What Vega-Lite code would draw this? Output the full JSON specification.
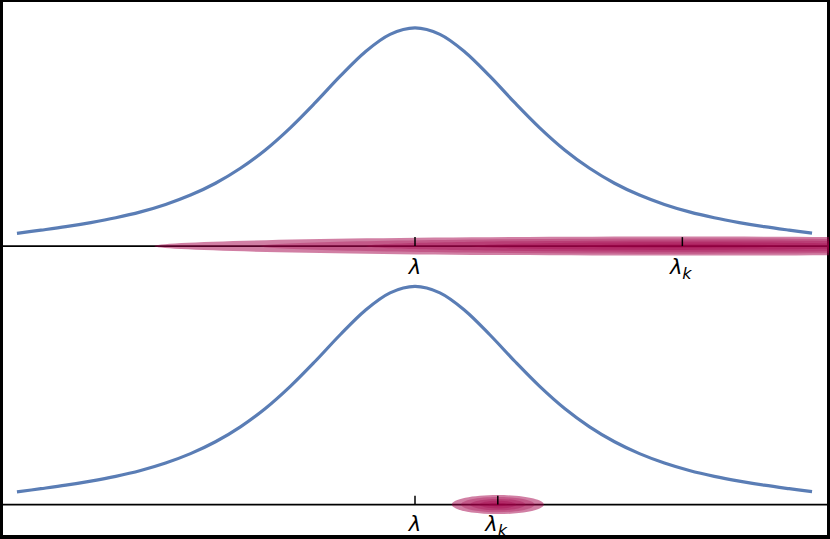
{
  "$schema": "https://vega.github.io/schema/vega-lite/v6.json",
  "width": 830,
  "height": 539,
  "autosize": {"type": "fit", "contains": "padding"},
  "padding": 0,
  "background": "white",
  "config": {"view": {"stroke": "black", "strokeWidth": 4}},
  "datasets": {
    "curve": [
      {"panel": "top", "x": -3.99, "y": 3.048}, {"panel": "top", "x": -3.75, "y": 3.08}, {"panel": "top", "x": -3.5, "y": 3.115},
      {"panel": "top", "x": -3.25, "y": 3.156}, {"panel": "top", "x": -3.0, "y": 3.204}, {"panel": "top", "x": -2.75, "y": 3.263},
      {"panel": "top", "x": -2.5, "y": 3.338}, {"panel": "top", "x": -2.25, "y": 3.432}, {"panel": "top", "x": -2.0, "y": 3.551},
      {"panel": "top", "x": -1.75, "y": 3.701}, {"panel": "top", "x": -1.5, "y": 3.885}, {"panel": "top", "x": -1.25, "y": 4.107},
      {"panel": "top", "x": -1.0, "y": 4.359}, {"panel": "top", "x": -0.75, "y": 4.625}, {"panel": "top", "x": -0.5, "y": 4.869},
      {"panel": "top", "x": -0.25, "y": 5.045}, {"panel": "top", "x": 0.0, "y": 5.11}, {"panel": "top", "x": 0.25, "y": 5.045},
      {"panel": "top", "x": 0.5, "y": 4.869}, {"panel": "top", "x": 0.75, "y": 4.625}, {"panel": "top", "x": 1.0, "y": 4.359},
      {"panel": "top", "x": 1.25, "y": 4.107}, {"panel": "top", "x": 1.5, "y": 3.885}, {"panel": "top", "x": 1.75, "y": 3.701},
      {"panel": "top", "x": 2.0, "y": 3.551}, {"panel": "top", "x": 2.25, "y": 3.432}, {"panel": "top", "x": 2.5, "y": 3.338},
      {"panel": "top", "x": 2.75, "y": 3.263}, {"panel": "top", "x": 3.0, "y": 3.204}, {"panel": "top", "x": 3.25, "y": 3.156},
      {"panel": "top", "x": 3.5, "y": 3.115}, {"panel": "top", "x": 3.75, "y": 3.08}, {"panel": "top", "x": 3.98, "y": 3.05},
      {"panel": "bottom", "x": -3.99, "y": 0.453}, {"panel": "bottom", "x": -3.75, "y": 0.485}, {"panel": "bottom", "x": -3.5, "y": 0.52},
      {"panel": "bottom", "x": -3.25, "y": 0.561}, {"panel": "bottom", "x": -3.0, "y": 0.609}, {"panel": "bottom", "x": -2.75, "y": 0.668},
      {"panel": "bottom", "x": -2.5, "y": 0.743}, {"panel": "bottom", "x": -2.25, "y": 0.837}, {"panel": "bottom", "x": -2.0, "y": 0.956},
      {"panel": "bottom", "x": -1.75, "y": 1.106}, {"panel": "bottom", "x": -1.5, "y": 1.29}, {"panel": "bottom", "x": -1.25, "y": 1.512},
      {"panel": "bottom", "x": -1.0, "y": 1.764}, {"panel": "bottom", "x": -0.75, "y": 2.03}, {"panel": "bottom", "x": -0.5, "y": 2.274},
      {"panel": "bottom", "x": -0.25, "y": 2.45}, {"panel": "bottom", "x": 0.0, "y": 2.515}, {"panel": "bottom", "x": 0.25, "y": 2.45},
      {"panel": "bottom", "x": 0.5, "y": 2.274}, {"panel": "bottom", "x": 0.75, "y": 2.03}, {"panel": "bottom", "x": 1.0, "y": 1.764},
      {"panel": "bottom", "x": 1.25, "y": 1.512}, {"panel": "bottom", "x": 1.5, "y": 1.29}, {"panel": "bottom", "x": 1.75, "y": 1.106},
      {"panel": "bottom", "x": 2.0, "y": 0.956}, {"panel": "bottom", "x": 2.25, "y": 0.837}, {"panel": "bottom", "x": 2.5, "y": 0.743},
      {"panel": "bottom", "x": 2.75, "y": 0.668}, {"panel": "bottom", "x": 3.0, "y": 0.609}, {"panel": "bottom", "x": 3.25, "y": 0.561},
      {"panel": "bottom", "x": 3.5, "y": 0.52}, {"panel": "bottom", "x": 3.75, "y": 0.485}, {"panel": "bottom", "x": 3.98, "y": 0.455}
    ],
    "axes": [{"panel": "top", "y": 2.92}, {"panel": "bottom", "y": 0.325}],
    "ticks": [
      {"panel": "top", "x": 0, "y": 2.92, "y2": 3.01},
      {"panel": "top", "x": 2.68, "y": 2.92, "y2": 3.01},
      {"panel": "bottom", "x": 0, "y": 0.325, "y2": 0.415},
      {"panel": "bottom", "x": 0.83, "y": 0.325, "y2": 0.415}
    ],
    "blobs": [{"panel": "top", "x": 2.68, "y": 2.92}, {"panel": "bottom", "x": 0.83, "y": 0.325}],
    "lam": [{"panel": "top", "x": 0, "y": 2.64}, {"panel": "bottom", "x": 0, "y": 0.06}],
    "lamk": [{"panel": "top", "x": 2.68, "y": 2.64}, {"panel": "bottom", "x": 0.83, "y": 0.06}]
  },
  "layer": [
    {
      "data": {"name": "curve"},
      "mark": {"type": "line", "color": "#5a7db5", "strokeWidth": 3.2, "interpolate": "catmull-rom"},
      "encoding": {
        "x": {"field": "x", "type": "quantitative", "scale": {"domain": [-4.15, 4.15], "nice": false, "zero": false}, "axis": null},
        "y": {"field": "y", "type": "quantitative", "scale": {"domain": [0, 5.39], "nice": false, "zero": false}, "axis": null},
        "detail": {"field": "panel"}
      }
    },
    {
      "data": {"name": "axes"},
      "mark": {"type": "rule", "color": "black", "strokeWidth": 1.8},
      "encoding": {
        "y": {"field": "y", "type": "quantitative", "scale": {"domain": [0, 5.39], "nice": false, "zero": false}, "axis": null}
      }
    },
    {"data": {"name": "blobs"}, "transform": [{"filter": "datum.panel === 'top'"}],
     "mark": {"type": "point", "filled": true, "clip": true, "color": "#a3004a", "opacity": 0.5, "size": 1115136,
       "shape": "M-1,0C-1,-0.00994,-0.5523,-0.018,0,-0.018C0.5523,-0.018,1,-0.00994,1,0C1,0.00994,0.5523,0.018,0,0.018C-0.5523,0.018,-1,0.00994,-1,0Z"},
     "encoding": {"x": {"field": "x", "type": "quantitative", "scale": {"domain": [-4.15, 4.15], "nice": false, "zero": false}, "axis": null},
       "y": {"field": "y", "type": "quantitative", "scale": {"domain": [0, 5.39], "nice": false, "zero": false}, "axis": null}}},
    {"data": {"name": "blobs"}, "transform": [{"filter": "datum.panel === 'top'"}],
     "mark": {"type": "point", "filled": true, "clip": true, "color": "#a3004a", "opacity": 0.3, "size": 713687,
       "shape": "M-1,0C-1,-0.00994,-0.5523,-0.018,0,-0.018C0.5523,-0.018,1,-0.00994,1,0C1,0.00994,0.5523,0.018,0,0.018C-0.5523,0.018,-1,0.00994,-1,0Z"},
     "encoding": {"x": {"field": "x", "type": "quantitative", "scale": {"domain": [-4.15, 4.15], "nice": false, "zero": false}, "axis": null},
       "y": {"field": "y", "type": "quantitative", "scale": {"domain": [0, 5.39], "nice": false, "zero": false}, "axis": null}}},
    {"data": {"name": "blobs"}, "transform": [{"filter": "datum.panel === 'top'"}],
     "mark": {"type": "point", "filled": true, "clip": true, "color": "#a3004a", "opacity": 0.3, "size": 401449,
       "shape": "M-1,0C-1,-0.00994,-0.5523,-0.018,0,-0.018C0.5523,-0.018,1,-0.00994,1,0C1,0.00994,0.5523,0.018,0,0.018C-0.5523,0.018,-1,0.00994,-1,0Z"},
     "encoding": {"x": {"field": "x", "type": "quantitative", "scale": {"domain": [-4.15, 4.15], "nice": false, "zero": false}, "axis": null},
       "y": {"field": "y", "type": "quantitative", "scale": {"domain": [0, 5.39], "nice": false, "zero": false}, "axis": null}}},
    {"data": {"name": "blobs"}, "transform": [{"filter": "datum.panel === 'top'"}],
     "mark": {"type": "point", "filled": true, "clip": true, "color": "#a3004a", "opacity": 0.3, "size": 178422,
       "shape": "M-1,0C-1,-0.00994,-0.5523,-0.018,0,-0.018C0.5523,-0.018,1,-0.00994,1,0C1,0.00994,0.5523,0.018,0,0.018C-0.5523,0.018,-1,0.00994,-1,0Z"},
     "encoding": {"x": {"field": "x", "type": "quantitative", "scale": {"domain": [-4.15, 4.15], "nice": false, "zero": false}, "axis": null},
       "y": {"field": "y", "type": "quantitative", "scale": {"domain": [0, 5.39], "nice": false, "zero": false}, "axis": null}}},
    {"data": {"name": "blobs"}, "transform": [{"filter": "datum.panel === 'top'"}],
     "mark": {"type": "point", "filled": true, "clip": true, "color": "#a3004a", "opacity": 0.3, "size": 44605,
       "shape": "M-1,0C-1,-0.00994,-0.5523,-0.018,0,-0.018C0.5523,-0.018,1,-0.00994,1,0C1,0.00994,0.5523,0.018,0,0.018C-0.5523,0.018,-1,0.00994,-1,0Z"},
     "encoding": {"x": {"field": "x", "type": "quantitative", "scale": {"domain": [-4.15, 4.15], "nice": false, "zero": false}, "axis": null},
       "y": {"field": "y", "type": "quantitative", "scale": {"domain": [0, 5.39], "nice": false, "zero": false}, "axis": null}}},
    {"data": {"name": "blobs"}, "transform": [{"filter": "datum.panel === 'bottom'"}],
     "mark": {"type": "point", "filled": true, "clip": true, "color": "#a3004a", "opacity": 0.5, "size": 8464,
       "shape": "M-1,0C-1,-0.114,-0.5523,-0.2065,0,-0.2065C0.5523,-0.2065,1,-0.114,1,0C1,0.114,0.5523,0.2065,0,0.2065C-0.5523,0.2065,-1,0.114,-1,0Z"},
     "encoding": {"x": {"field": "x", "type": "quantitative", "scale": {"domain": [-4.15, 4.15], "nice": false, "zero": false}, "axis": null},
       "y": {"field": "y", "type": "quantitative", "scale": {"domain": [0, 5.39], "nice": false, "zero": false}, "axis": null}}},
    {"data": {"name": "blobs"}, "transform": [{"filter": "datum.panel === 'bottom'"}],
     "mark": {"type": "point", "filled": true, "clip": true, "color": "#a3004a", "opacity": 0.3, "size": 5417,
       "shape": "M-1,0C-1,-0.114,-0.5523,-0.2065,0,-0.2065C0.5523,-0.2065,1,-0.114,1,0C1,0.114,0.5523,0.2065,0,0.2065C-0.5523,0.2065,-1,0.114,-1,0Z"},
     "encoding": {"x": {"field": "x", "type": "quantitative", "scale": {"domain": [-4.15, 4.15], "nice": false, "zero": false}, "axis": null},
       "y": {"field": "y", "type": "quantitative", "scale": {"domain": [0, 5.39], "nice": false, "zero": false}, "axis": null}}},
    {"data": {"name": "blobs"}, "transform": [{"filter": "datum.panel === 'bottom'"}],
     "mark": {"type": "point", "filled": true, "clip": true, "color": "#a3004a", "opacity": 0.3, "size": 3047,
       "shape": "M-1,0C-1,-0.114,-0.5523,-0.2065,0,-0.2065C0.5523,-0.2065,1,-0.114,1,0C1,0.114,0.5523,0.2065,0,0.2065C-0.5523,0.2065,-1,0.114,-1,0Z"},
     "encoding": {"x": {"field": "x", "type": "quantitative", "scale": {"domain": [-4.15, 4.15], "nice": false, "zero": false}, "axis": null},
       "y": {"field": "y", "type": "quantitative", "scale": {"domain": [0, 5.39], "nice": false, "zero": false}, "axis": null}}},
    {"data": {"name": "blobs"}, "transform": [{"filter": "datum.panel === 'bottom'"}],
     "mark": {"type": "point", "filled": true, "clip": true, "color": "#a3004a", "opacity": 0.3, "size": 1354,
       "shape": "M-1,0C-1,-0.114,-0.5523,-0.2065,0,-0.2065C0.5523,-0.2065,1,-0.114,1,0C1,0.114,0.5523,0.2065,0,0.2065C-0.5523,0.2065,-1,0.114,-1,0Z"},
     "encoding": {"x": {"field": "x", "type": "quantitative", "scale": {"domain": [-4.15, 4.15], "nice": false, "zero": false}, "axis": null},
       "y": {"field": "y", "type": "quantitative", "scale": {"domain": [0, 5.39], "nice": false, "zero": false}, "axis": null}}},
    {"data": {"name": "blobs"}, "transform": [{"filter": "datum.panel === 'bottom'"}],
     "mark": {"type": "point", "filled": true, "clip": true, "color": "#a3004a", "opacity": 0.3, "size": 339,
       "shape": "M-1,0C-1,-0.114,-0.5523,-0.2065,0,-0.2065C0.5523,-0.2065,1,-0.114,1,0C1,0.114,0.5523,0.2065,0,0.2065C-0.5523,0.2065,-1,0.114,-1,0Z"},
     "encoding": {"x": {"field": "x", "type": "quantitative", "scale": {"domain": [-4.15, 4.15], "nice": false, "zero": false}, "axis": null},
       "y": {"field": "y", "type": "quantitative", "scale": {"domain": [0, 5.39], "nice": false, "zero": false}, "axis": null}}},
    {
      "data": {"name": "ticks"},
      "mark": {"type": "rule", "color": "black", "strokeWidth": 1.5},
      "encoding": {
        "x": {"field": "x", "type": "quantitative", "scale": {"domain": [-4.15, 4.15], "nice": false, "zero": false}, "axis": null},
        "y": {"field": "y", "type": "quantitative", "scale": {"domain": [0, 5.39], "nice": false, "zero": false}, "axis": null},
        "y2": {"field": "y2"}
      }
    },
    {
      "data": {"name": "lam"},
      "mark": {"type": "text", "text": "λ", "font": "DejaVu Sans", "fontStyle": "italic", "fontSize": 21, "color": "black", "align": "center", "baseline": "alphabetic"},
      "encoding": {
        "x": {"field": "x", "type": "quantitative", "scale": {"domain": [-4.15, 4.15], "nice": false, "zero": false}, "axis": null},
        "y": {"field": "y", "type": "quantitative", "scale": {"domain": [0, 5.39], "nice": false, "zero": false}, "axis": null}
      }
    },
    {
      "data": {"name": "lamk"},
      "mark": {"type": "text", "text": "λ", "font": "DejaVu Sans", "fontStyle": "italic", "fontSize": 21, "color": "black", "align": "right", "baseline": "alphabetic", "dx": 0},
      "encoding": {
        "x": {"field": "x", "type": "quantitative", "scale": {"domain": [-4.15, 4.15], "nice": false, "zero": false}, "axis": null},
        "y": {"field": "y", "type": "quantitative", "scale": {"domain": [0, 5.39], "nice": false, "zero": false}, "axis": null}
      }
    },
    {
      "data": {"name": "lamk"},
      "mark": {"type": "text", "text": "k", "font": "DejaVu Sans", "fontStyle": "italic", "fontSize": 16, "color": "black", "align": "left", "baseline": "alphabetic", "dx": 0, "dy": 5},
      "encoding": {
        "x": {"field": "x", "type": "quantitative", "scale": {"domain": [-4.15, 4.15], "nice": false, "zero": false}, "axis": null},
        "y": {"field": "y", "type": "quantitative", "scale": {"domain": [0, 5.39], "nice": false, "zero": false}, "axis": null}
      }
    }
  ]
}
